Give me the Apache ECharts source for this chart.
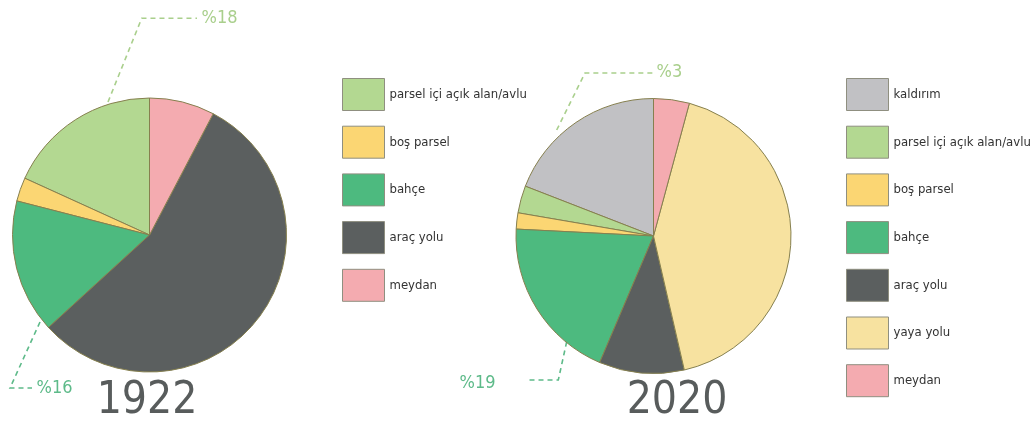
<!DOCTYPE html>
<html>
<head>
<meta charset="utf-8">
<script src="https://cdn.jsdelivr.net/npm/echarts@6/dist/echarts.min.js"></script>
<style>
html,body{margin:0;padding:0;background:#fff;}
#chart{width:1032px;height:427px;}
</style>
</head>
<body>
<div id="chart"></div>
<script>
// ---- data ----
var names1922 = ['parsel içi açık alan/avlu', 'boş parsel', 'bahçe', 'araç yolu', 'meydan'];
var values1922 = [18.2, 2.8, 15.8, 55.5, 7.7];
var callouts1922 = ['parsel içi açık alan/avlu', 'bahçe'];

var names2020 = ['kaldırım', 'parsel içi açık alan/avlu', 'boş parsel', 'bahçe', 'araç yolu', 'yaya yolu', 'meydan'];
var values2020 = [19.1, 3.2, 1.9, 19.4, 10.0, 42.2, 4.2];
var callouts2020 = ['parsel içi açık alan/avlu', 'bahçe'];

var years = ['1922', '2020'];

// ---- styles ----
var colors = {
  'kaldırım': '#c1c1c4',
  'parsel içi açık alan/avlu': '#b3d891',
  'boş parsel': '#fbd673',
  'bahçe': '#4dba7f',
  'araç yolu': '#5b5f5f',
  'yaya yolu': '#f7e2a0',
  'meydan': '#f4abb0'
};
var calloutColors = {
  'parsel içi açık alan/avlu': '#a9cf8c',
  'bahçe': '#5dba89'
};
var borderCol = '#86804f';
var condensed = "'DejaVu Sans Condensed', 'Liberation Sans Narrow', sans-serif";

// pie layout (pixels)
var pieLayout = [
  { center: [149.5, 235], radius: 137 },
  { center: [653.5, 236], radius: 137.5 }
];
// callout geometry relative to pie center: line points + label anchor
var calloutGeom = [
  {
    'parsel içi açık alan/avlu': { pts: [[-41.5, -133], [-7.8, -216.7], [47.5, -216.7]], label: [52, -216.7], align: 'left' },
    'bahçe': { pts: [[-109.5, 87], [-139.5, 153], [-117.5, 153]], label: [-113, 153], align: 'left' }
  },
  {
    'parsel içi açık alan/avlu': { pts: [[-96.8, -106], [-68.5, -163], [-0.5, -163]], label: [3, -163.5], align: 'left' },
    'bahçe': { pts: [[-86.8, 105.7], [-95.2, 144], [-125.2, 144]], label: [-158, 147.5], align: 'right' }
  }
];

function buildData(names, values, callouts) {
  return names.map(function (n, i) {
    var isCallout = callouts.indexOf(n) >= 0;
    return {
      name: n,
      value: values[i],
      itemStyle: { color: colors[n] },
      label: {
        show: isCallout,
        color: calloutColors[n] || '#999'
      },
      labelLine: {
        show: isCallout,
        lineStyle: { color: calloutColors[n] || '#999', type: [5, 4], width: 1.6 }
      }
    };
  });
}

function makeLayout(si) {
  return function (params) {
    var c = pieLayout[si].center;
    var name = (si === 0 ? names1922 : names2020)[params.dataIndex];
    var g = calloutGeom[si][name];
    if (!g) return {};
    return {
      x: c[0] + g.label[0],
      y: c[1] + g.label[1],
      align: g.align,
      verticalAlign: 'middle',
      labelLinePoints: g.pts.map(function (p) { return [c[0] + p[0], c[1] + p[1]]; })
    };
  };
}

var seriesData = [
  buildData(names1922, values1922, callouts1922),
  buildData(names2020, values2020, callouts2020)
];

var series = seriesData.map(function (d, si) {
  return {
    type: 'pie',
    center: pieLayout[si].center,
    radius: pieLayout[si].radius,
    startAngle: 90,
    clockwise: false,
    avoidLabelOverlap: false,
    data: d,
    itemStyle: { borderColor: borderCol, borderWidth: 1 },
    label: {
      position: 'outside',
      formatter: function (p) { return '%' + Math.round(p.value); },
      fontFamily: condensed,
      fontSize: 18
    },
    labelLine: { show: false },
    labelLayout: makeLayout(si),
    emphasis: { disabled: true },
    silent: true
  };
});

var legendBase = {
  orient: 'vertical',
  itemWidth: 42,
  itemHeight: 32,
  itemGap: 14.7,
  icon: 'rect',
  selectedMode: false,
  padding: 0,
  itemStyle: { borderColor: '#8f8f80', borderWidth: 1 },
  textStyle: { fontFamily: condensed, fontSize: 13, color: '#333' }
};

var titleStyle = { fontFamily: condensed, fontSize: 44, fontWeight: 'normal', color: '#585c5c' };

var option = {
  animation: false,
  backgroundColor: '#fff',
  title: [
    { text: years[0], left: 147, top: 380, textAlign: 'center', padding: 0, textStyle: titleStyle },
    { text: years[1], left: 677, top: 380, textAlign: 'center', padding: 0, textStyle: titleStyle }
  ],
  legend: [
    Object.assign({}, legendBase, { left: 342, top: 78, data: names1922 }),
    Object.assign({}, legendBase, { left: 846, top: 78, data: names2020 })
  ],
  series: series
};

var chart = echarts.init(document.getElementById('chart'), null, { renderer: 'canvas' });
chart.setOption(option);
</script>
</body>
</html>
